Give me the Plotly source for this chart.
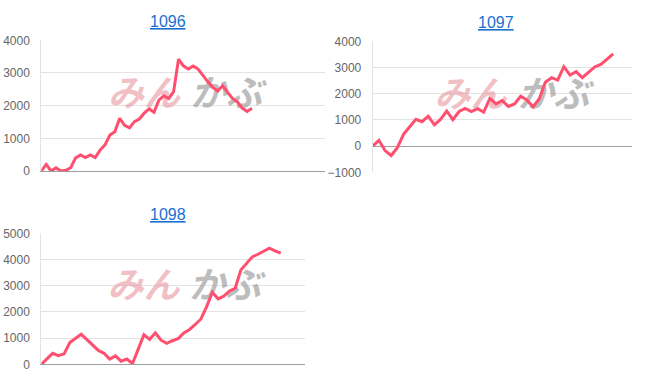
import plotly.graph_objects as go

W, H = 652, 382

titles = ["1096", "1097", "1098"]

s1096 = [0, 200, 0, 100, 0, 20, 100, 400, 490, 410, 490, 410, 640, 800, 1100, 1200,
         1610, 1400, 1320, 1510, 1590, 1770, 1900, 1800, 2170, 2300, 2220, 2430, 3420,
         3220, 3120, 3210, 3120, 2910, 2730, 2560, 2450, 2610, 2430, 2220, 2120, 1920,
         1820, 1920]
s1097 = [0, 220, -170, -360, -60, 450, 740, 1020, 930, 1140, 810, 1020, 1340, 1010,
         1320, 1440, 1320, 1430, 1300, 1820, 1610, 1740, 1510, 1610, 1900, 1760, 1500,
         1800, 2440, 2610, 2520, 3030, 2710, 2840, 2610, 2820, 3020, 3120, 3310, 3520]
s1098 = [0, 200, 420, 330, 400, 830, 990, 1145, 940, 740, 530, 420, 200, 320, 120, 200,
         30, 580, 1130, 950, 1200, 920, 800, 900, 980, 1200, 1330, 1520, 1730, 2200,
         2750, 2500, 2600, 2800, 2900, 3600, 3850, 4100, 4200, 4320, 4430, 4330, 4240]
series = [s1096, s1097, s1098]

watermark = ["みん", "かぶ"]

# x-axis lengths (number of periods shown on each axis)
x_spans = [57.9, 42.05, 46.25]
y_ranges = [[0, 4000], [-1000, 4000], [0, 5000]]

# plot-area pixel boxes: (left, right, top, bottom)
boxes = [(41.3, 325, 40.3, 171), (372.7, 632, 41.3, 172.3), (41.3, 305, 233.3, 364.3)]
title_pos = [(168, 21), (496, 22), (168, 215)]
# watermark centres in axis-domain fractions: (pink x, gray x, y)
wm = [(0.362, 0.652, 0.565), (0.377, 0.697, 0.568), (0.388, 0.697, 0.572)]

LINE = "#ff4f6f"
GRID = "#e3e3e3"
BASE = "#9e9e9e"
TICK = "#666666"
FONT = "Liberation Sans, Arial, sans-serif"

fig = go.Figure()
layout = dict(width=W, height=H, margin=dict(l=0, r=0, t=0, b=0, autoexpand=False),
              paper_bgcolor="white", plot_bgcolor="white", showlegend=False,
              hovermode=False, font=dict(family=FONT))
annotations = []

for i, vals in enumerate(series):
    sfx = "" if i == 0 else str(i + 1)
    xa, ya = "x" + sfx, "y" + sfx
    l, r, t, b = boxes[i]
    lo, hi = y_ranges[i]
    px, gx, fy = wm[i]
    # watermark (drawn first so the line sits on top)
    fig.add_trace(go.Scatter(x=[px * x_spans[i], gx * x_spans[i]],
                             y=[lo + fy * (hi - lo)] * 2, mode="text",
                             text=watermark,
                             textfont=dict(size=36, family="Noto Sans CJK JP",
                                           weight="bold", style="italic",
                                           color=["rgba(232,150,158,0.6)",
                                                  "rgba(160,160,160,0.7)"]),
                             xaxis=xa, yaxis=ya, hoverinfo="skip"))
    fig.add_trace(go.Scatter(x=list(range(len(vals))), y=vals, mode="lines",
                             line=dict(color=LINE, width=3), xaxis=xa, yaxis=ya))
    layout["xaxis" + sfx] = dict(domain=[l / W, r / W], range=[0, x_spans[i]],
                                 showgrid=False, zeroline=False, showticklabels=False,
                                 showline=(lo == 0), linecolor=BASE, automargin=False,
                                 linewidth=1, anchor=ya, fixedrange=True)
    layout["yaxis" + sfx] = dict(domain=[1 - b / H, 1 - t / H], range=y_ranges[i],
                                 dtick=1000, gridcolor=GRID, gridwidth=1,
                                 zeroline=(lo != 0), zerolinecolor=BASE,
                                 zerolinewidth=1, showline=True, linecolor=GRID,
                                 automargin=False,
                                 tickfont=dict(size=12, color=TICK, family=FONT),
                                 ticklabelstandoff=8, anchor=xa, fixedrange=True)
    tx, ty = title_pos[i]
    annotations.append(dict(text="<u>" + titles[i] + "</u>", xref="paper", yref="paper",
                            x=tx / W, y=1 - ty / H, xanchor="center", yanchor="middle",
                            showarrow=False,
                            font=dict(size=16, color="#1a6fd1", family=FONT)))

layout["annotations"] = annotations
fig.update_layout(**layout)
fig.write_html("out.html")
